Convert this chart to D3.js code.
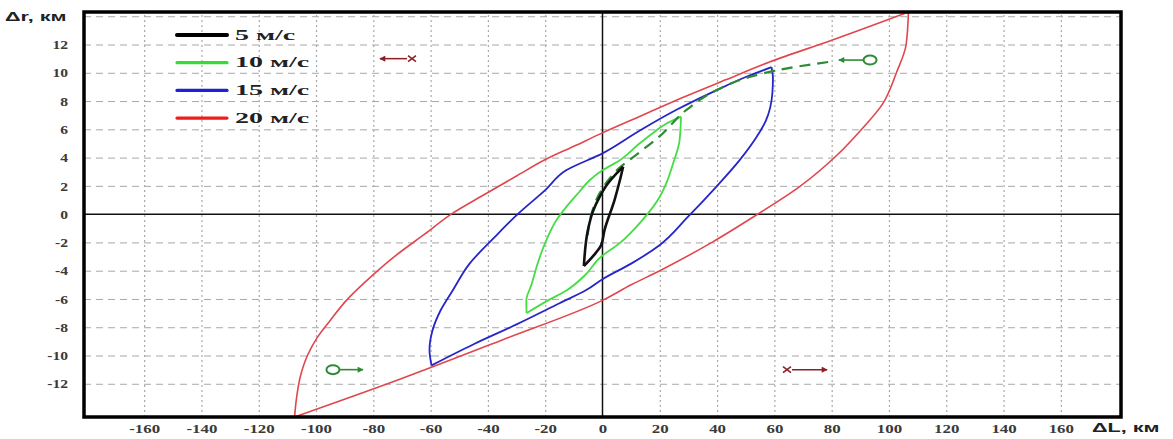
<!DOCTYPE html>
<html>
<head>
<meta charset="utf-8">
<script src="https://cdn.jsdelivr.net/npm/d3@7"></script>
<style>
  body { margin: 0; background: #fff; }
  svg { display: block; }
</style>
</head>
<body>
<script>
// tick values
var xTicks = [-160, -140, -120, -100, -80, -60, -40, -20, 0, 20, 40, 60, 80, 100, 120, 140, 160];
var yTicks = [-12, -10, -8, -6, -4, -2, 0, 2, 4, 6, 8, 10, 12];

// legend
var speeds = ["5 м/с", "10 м/с", "15 м/с", "20 м/с"];

// loops, each one drawn as two branches [dL, dr] between its corner points
var black_up = [[-6.5,-3.67],[-5.1,-1.13],[-3.4,0.16],[-1,1.22],[2,2.2],[5,2.9],[7.2,3.35]];
var black_lo = [[-6.5,-3.67],[-3,-2.9],[-0.5,-2.2],[0.7,-1.13],[4.2,1.0],[6.2,2.5],[7.2,3.35]];

var green_up = [[-26.5,-7.0],[-26.6,-6.1],[-24.8,-5.0],[-22.5,-3.4],[-19.6,-1.84],[-16,-0.4],[-12.7,0.5],
  [-8,1.6],[-4.5,2.4],[0,3.1],[5.9,3.8],[12.9,5.0],[18,5.8],[22.2,6.4],[27.4,6.9]];
var green_lo = [[-26.5,-7.0],[-19,-6.1],[-12.6,-5.4],[-6,-4.3],[-1,-3.1],[5.9,-2.07],[14,-0.4],[19.9,1.2],
  [22.5,2.3],[24.5,3.5],[26.9,5.2],[27.4,6.9]];

var blue_up = [[-59.7,-10.7],[-60.4,-9.6],[-59.3,-8.2],[-56.5,-6.8],[-52.3,-5.4],[-46.4,-3.5],[-38,-1.7],
  [-29.6,0],[-20,1.7],[-12.7,3.1],[0,4.3],[12.9,5.9],[26,7.4],[39.7,8.76],[50,9.7],[59,10.4]];
var blue_lo = [[-59.7,-10.7],[-45,-9.2],[-30,-7.8],[-15,-6.3],[-5.7,-5.37],[0,-4.6],[10,-3.5],[19.9,-2.2],
  [29.8,-0.2],[39.7,1.93],[47.8,3.8],[53.6,5.4],[57,6.6],[59.3,8.55],[59.5,9.6],[59,10.4]];

var red_up = [[-107.5,-14.35],[-106.8,-13],[-105.5,-11.5],[-103,-10],[-99.5,-8.7],[-95,-7.5],[-89.4,-6.1],
  [-80.7,-4.4],[-72,-2.9],[-62,-1.4],[-52.8,0],[-40.6,1.46],[-30,2.7],[-19.6,3.9],[-10,4.8],[0,5.75],
  [14,7.0],[28,8.25],[43,9.5],[58.3,10.76],[80,12.3],[106.8,14.3]];
var red_lo = [[-107.5,-14.35],[-71,-11.7],[-35,-8.9],[0,-6.1],[10,-5.0],[20,-4.0],[38.5,-1.96],
  [54.2,0],[68.7,1.93],[82,4.2],[90,5.9],[97.8,7.8],[102.6,10],[106,12],[106.8,14.3]];

// dashed trajectory
var track = [[-5.2,-1.5],[-3.6,0.2],[-1.2,1.4],[2,2.4],[5.5,3.2],[10.5,4.0],[19.9,5.5],[29.2,7.35],
  [39.7,8.76],[51.3,9.7],[64,10.3],[80,10.8]];

// markers: position, arrow tip, row
var crossMarks = [[-66.5, -77.7, 11.0], [64.4, 78.4, -11.0]];
var ringMarks = [[-94.1, -83.6, -11.0], [93.4, 82.5, 10.9]];

var W = 1173, H = 439;
var x = d3.scaleLinear().domain([-181, 181]).range([84, 1121]);
var y = d3.scaleLinear().domain([-14.35, 14.3]).range([417, 12]);

var svg = d3.select("body").append("svg").attr("width", W).attr("height", H);

var defs = svg.append("defs");
function arrowDef(id, col) {
  defs.append("marker").attr("id", id)
    .attr("viewBox", "0 0 10 10").attr("refX", 9).attr("refY", 5)
    .attr("markerWidth", 7).attr("markerHeight", 6).attr("markerUnits", "userSpaceOnUse")
    .attr("orient", "auto")
    .append("path").attr("d", "M0,0L10,5L0,10z").attr("fill", col);
}
arrowDef("arRed", "#8b1f24");
arrowDef("arGreen", "#2e8b34");

// grid
svg.append("g").attr("transform", "translate(0,417)")
  .call(d3.axisBottom(x).tickValues(xTicks.filter(function(d) { return d !== 0; }))
    .tickSize(-405).tickFormat(""))
  .call(function(g) { g.select(".domain").remove(); })
  .selectAll("line").attr("stroke", "#a8a8a8").attr("stroke-width", 1.2).attr("stroke-dasharray", "2,3");

svg.append("g").attr("transform", "translate(84,0)")
  .call(d3.axisLeft(y).tickValues(yTicks.concat([14]).filter(function(d) { return d !== 0; }))
    .tickSize(-1037).tickFormat(""))
  .call(function(g) { g.select(".domain").remove(); })
  .selectAll("line").attr("stroke", "#a8a8a8").attr("stroke-width", 1).attr("stroke-dasharray", "7,5");

// zero lines
svg.append("line").attr("x1", x(0)).attr("x2", x(0)).attr("y1", 12).attr("y2", 417)
  .attr("stroke", "#111").attr("stroke-width", 1.5);
svg.append("line").attr("x1", 84).attr("x2", 1121).attr("y1", y(0)).attr("y2", y(0))
  .attr("stroke", "#111").attr("stroke-width", 1.5);

// loops (every branch climbs in dr, so a monotone curve in y keeps it smooth)
var line = d3.line().x(function(d) { return x(d[0]); }).y(function(d) { return y(d[1]); })
  .curve(d3.curveMonotoneY);

function loop(branches, col, w) {
  branches.forEach(function(b) {
    svg.append("path").attr("d", line(b)).attr("fill", "none")
      .attr("stroke", col).attr("stroke-width", w).attr("stroke-linejoin", "round");
  });
}
loop([red_up, red_lo], "#e0474c", 1.6);
loop([blue_up, blue_lo], "#2626c8", 1.8);
loop([green_up, green_lo], "#44dd44", 1.8);

svg.append("path").attr("d", line(track)).attr("fill", "none")
  .attr("stroke", "#2e8b34").attr("stroke-width", 2.2).attr("stroke-dasharray", "11,7");

loop([black_up, black_lo], "#111", 2.6);

// markers
crossMarks.forEach(function(m) {
  var cx = x(m[0]), cy = y(m[2]), dir = m[1] > m[0] ? 1 : -1;
  svg.append("line").attr("x1", cx + dir * 5).attr("y1", cy).attr("x2", x(m[1])).attr("y2", cy)
    .attr("stroke", "#8b1f24").attr("stroke-width", 1.5).attr("marker-end", "url(#arRed)");
  svg.append("path").attr("d", "M" + (cx - 4) + "," + (cy - 3) + "L" + (cx + 4) + "," + (cy + 3) +
      "M" + (cx - 4) + "," + (cy + 3) + "L" + (cx + 4) + "," + (cy - 3))
    .attr("stroke", "#8b1f24").attr("stroke-width", 1.5).attr("fill", "none");
});
ringMarks.forEach(function(m) {
  var cx = x(m[0]), cy = y(m[2]), dir = m[1] > m[0] ? 1 : -1;
  svg.append("line").attr("x1", cx + dir * 7).attr("y1", cy).attr("x2", x(m[1])).attr("y2", cy)
    .attr("stroke", "#2e8b34").attr("stroke-width", 1.6).attr("marker-end", "url(#arGreen)");
  svg.append("ellipse").attr("cx", cx).attr("cy", cy).attr("rx", 6.5).attr("ry", 4.5)
    .attr("fill", "#fff").attr("stroke", "#2e8b34").attr("stroke-width", 2);
});

// frame
svg.append("rect").attr("x", 84).attr("y", 12).attr("width", 1037).attr("height", 405)
  .attr("fill", "none").attr("stroke", "#000").attr("stroke-width", 3.5);

// tick labels
var gx = svg.append("g").attr("transform", "translate(0,417)")
  .call(d3.axisBottom(x).tickValues(xTicks).tickSize(0).tickPadding(7).tickFormat(function(d) { return String(d); }));
gx.select(".domain").remove();
gx.selectAll("text").attr("font-family", "Liberation Serif").attr("font-weight", "bold")
  .attr("font-size", 13).attr("fill", "#3a3a3a").attr("transform", "scale(1.3,1)");

var gy = svg.append("g").attr("transform", "translate(84,0)")
  .call(d3.axisLeft(y).tickValues(yTicks).tickSize(0).tickPadding(16).tickFormat(function(d) { return String(d); }));
gy.select(".domain").remove();
gy.selectAll("text").attr("font-family", "Liberation Serif").attr("font-weight", "bold")
  .attr("font-size", 13).attr("fill", "#3a3a3a").attr("x", -16 / 1.2).attr("transform", "scale(1.2,1)");

// axis names
svg.append("text").attr("transform", "translate(5,21) scale(1.8,1)")
  .attr("font-family", "Liberation Sans").attr("font-weight", "bold").attr("font-size", 12)
  .attr("fill", "#222").text("Δr, км");
svg.append("text").attr("transform", "translate(1092,432) scale(1.8,1)")
  .attr("font-family", "Liberation Sans").attr("font-weight", "bold").attr("font-size", 12)
  .attr("fill", "#222").text("ΔL, км");

// legend
var legCols = ["#000", "#33dd33", "#1f1fd6", "#ee1c1c"];
var leg = svg.append("g").selectAll("g").data(speeds).enter().append("g")
  .attr("transform", function(d, i) { return "translate(177," + (35 + i * 27.7) + ")"; });
leg.append("line").attr("x1", 0).attr("x2", 50)
  .attr("stroke", function(d, i) { return legCols[i]; })
  .attr("stroke-width", function(d, i) { return i === 0 ? 4 : 3.2; })
  .attr("stroke-linecap", "round");
leg.append("text").attr("transform", "translate(58,4.5) scale(2.0,1)")
  .attr("font-family", "Liberation Serif").attr("font-weight", "bold").attr("font-size", 14)
  .attr("fill", "#222").text(function(d) { return d; });
</script>
</body>
</html>
